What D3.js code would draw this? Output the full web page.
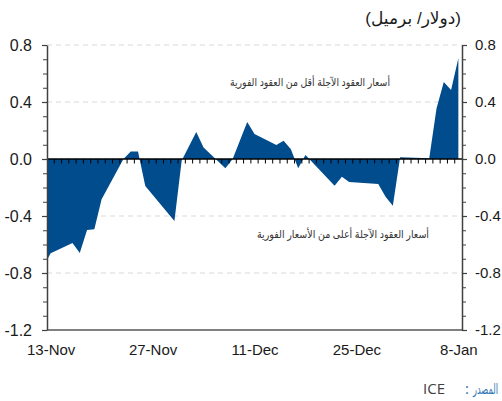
<!DOCTYPE html>
<html>
<head>
<meta charset="utf-8">
<script src="https://cdn.jsdelivr.net/npm/d3@7"></script>
<style>
  body { margin: 0; background: #fff; }
  #chart { width: 502px; height: 401px; overflow: hidden; }
</style>
</head>
<body>
<div id="chart"></div>
<script>
// Brent spread (front month minus second month), $/bbl
const dates = [
  "2018-11-12", "2018-11-13", "2018-11-16", "2018-11-17", "2018-11-18", "2018-11-19",
  "2018-11-20", "2018-11-23", "2018-11-24", "2018-11-25", "2018-11-26", "2018-11-30",
  "2018-12-01", "2018-12-03", "2018-12-04", "2018-12-07", "2018-12-08", "2018-12-10",
  "2018-12-11", "2018-12-14", "2018-12-15", "2018-12-16", "2018-12-17", "2018-12-18",
  "2018-12-22", "2018-12-23", "2018-12-24", "2018-12-28", "2018-12-29", "2018-12-30",
  "2018-12-31", "2019-01-04", "2019-01-05", "2019-01-06", "2019-01-07", "2019-01-08"
];
const values = [
  -0.755, -0.662, -0.59, -0.66, -0.498, -0.493,
  -0.283, 0.0, 0.053, 0.053, -0.19, -0.435,
  -0.01, 0.19, 0.08, -0.065, 0.0, 0.26,
  0.175, 0.098, 0.128, 0.068, -0.065, 0.028,
  -0.187, -0.124, -0.161, -0.175, -0.265, -0.328,
  0.012, 0.005, 0.355, 0.54, 0.485, 0.707
];
const yTicks = [-1.2, -0.8, -0.4, 0, 0.4, 0.8];
const xTickLabels = ["2018-11-13", "2018-11-27", "2018-12-11", "2018-12-25", "2019-01-08"];
const unitLabel = "(دولار/ برميل)";
const labelAbove = "أسعار العقود الآجلة أقل من العقود الفورية";
const labelBelow = "أسعار العقود الآجلة أعلى من الأسعار الفورية";
const sourceLabel = "المصدر";
const sourceName = "ICE";

const width = 502, height = 401;
const plot = { left: 47, right: 462, top: 45, bottom: 330 };
const fill = "#004c8c";
const fontFamily = "'Liberation Sans', Arial, 'DejaVu Sans', sans-serif";

const parse = d3.utcParse("%Y-%m-%d");
const data = dates.map((d, i) => ({ date: parse(d), value: values[i] }));
const halfDay = 12 * 3600 * 1000;

// date axis with the points in the middle of each day slot
const x = d3.scaleUtc()
  .domain([new Date(+parse("2018-11-13") - halfDay), new Date(+parse("2019-01-08") + halfDay)])
  .range([plot.left, plot.right]);
const y = d3.scaleLinear().domain([-1.2, 0.8]).range([plot.bottom, plot.top]);

const svg = d3.select("#chart")
  .append("svg")
  .attr("width", width)
  .attr("height", height)
  .attr("font-family", fontFamily);

svg.append("defs")
  .append("clipPath")
  .attr("id", "plot-clip")
  .append("rect")
  .attr("x", plot.left)
  .attr("y", plot.top - 5)
  .attr("width", plot.right - plot.left)
  .attr("height", plot.bottom - plot.top + 5);

// dashed grid
svg.append("g")
  .selectAll("line")
  .data(yTicks.filter((t) => t !== 0 && t !== -1.2))
  .join("line")
  .attr("x1", plot.left)
  .attr("x2", plot.right)
  .attr("y1", (d) => y(d))
  .attr("y2", (d) => y(d))
  .attr("stroke", "#d9d9d9")
  .attr("stroke-width", 1)
  .attr("stroke-dasharray", "5,4");

// area
const area = d3.area()
  .x((d) => x(d.date))
  .y0(y(0))
  .y1((d) => y(d.value));

svg.append("path")
  .datum(data)
  .attr("clip-path", "url(#plot-clip)")
  .attr("fill", fill)
  .attr("d", area);

// zero line with day ticks
const dayTicks = d3.utcDay
  .range(parse("2018-11-13"), parse("2019-01-08"))
  .map((d) => new Date(+d + halfDay));
svg.append("line")
  .attr("x1", plot.left)
  .attr("x2", plot.right)
  .attr("y1", y(0))
  .attr("y2", y(0))
  .attr("stroke", "#000")
  .attr("stroke-width", 1.6);
svg.append("g")
  .selectAll("line")
  .data(dayTicks)
  .join("line")
  .attr("x1", (d) => x(d))
  .attr("x2", (d) => x(d))
  .attr("y1", y(0))
  .attr("y2", y(0) + 4.5)
  .attr("stroke", "#000")
  .attr("stroke-width", 1);

// bottom axis
svg.append("line")
  .attr("x1", plot.left)
  .attr("x2", plot.right)
  .attr("y1", y(-1.2))
  .attr("y2", y(-1.2))
  .attr("stroke", "#808080")
  .attr("stroke-width", 2);

const xAxis = svg.append("g")
  .attr("transform", `translate(0,${y(-1.2)})`)
  .call(
    d3.axisBottom(x)
      .tickValues(xTickLabels.map(parse))
      .tickSize(0)
      .tickPadding(14)
      .tickFormat(d3.utcFormat("%-d-%b"))
  );
xAxis.select(".domain").remove();
xAxis.selectAll("text")
  .attr("font-size", 15)
  .attr("font-family", fontFamily)
  .attr("fill", "#1a1a1a");

// y axes (left and right)
const minorTicks = d3.range(-12, 9).map((i) => i / 10);
const fmt = (d) => d.toFixed(1);

const drawYAxis = (axisFn, xPos, fontSize, padding) => {
  const minor = svg.append("g")
    .attr("transform", `translate(${xPos},0)`)
    .call(axisFn(y).tickValues(minorTicks).tickSize(4).tickFormat(""));
  minor.select(".domain").remove();
  minor.selectAll("line").attr("stroke", "#404040");

  const major = svg.append("g")
    .attr("transform", `translate(${xPos},0)`)
    .call(axisFn(y).tickValues(yTicks).tickSizeInner(5).tickSizeOuter(0).tickPadding(padding).tickFormat(fmt));
  major.select(".domain").attr("stroke", "#404040").attr("stroke-width", 1.5);
  major.selectAll("line").attr("stroke", "#404040").attr("stroke-width", 1.2);
  major.selectAll("text")
    .attr("font-size", fontSize)
    .attr("font-family", fontFamily)
    .attr("fill", "#1a1a1a");
};
drawYAxis(d3.axisLeft, plot.left, 16, 10);
drawYAxis(d3.axisRight, plot.right, 15, 8);

// unit label (right-to-left)
svg.append("text")
  .attr("x", 461)
  .attr("y", 24)
  .attr("direction", "rtl")
  .style("unicode-bidi", "embed")
  .attr("text-anchor", "start")
  .attr("font-size", 17)
  .attr("fill", "#1a1a1a")
  .text(unitLabel);

// annotations
svg.append("text")
  .attr("x", 310)
  .attr("y", 86)
  .attr("text-anchor", "middle")
  .attr("font-size", 11)
  .attr("textLength", 160)
  .attr("lengthAdjust", "spacingAndGlyphs")
  .attr("fill", "#333")
  .text(labelAbove);
svg.append("text")
  .attr("x", 343)
  .attr("y", 238)
  .attr("text-anchor", "middle")
  .attr("font-size", 11)
  .attr("textLength", 172)
  .attr("lengthAdjust", "spacingAndGlyphs")
  .attr("fill", "#333")
  .text(labelBelow);

// source: "المصدر: ICE"
const srcG = svg.append("g")
  .attr("font-family", "'Open Sans', 'DejaVu Sans', sans-serif")
  .attr("font-size", 15);
srcG.append("text")
  .attr("x", 423)
  .attr("y", 394)
  .attr("fill", "#404040")
  .text(sourceName);
srcG.append("text")
  .attr("x", 467)
  .attr("y", 394)
  .attr("text-anchor", "middle")
  .attr("fill", "#2e74b5")
  .text(":");
const srcWord = srcG.append("g");
const srcText = srcWord.append("text")
  .attr("x", 0)
  .attr("y", 0)
  .attr("text-anchor", "end")
  .attr("font-size", 14)
  .attr("fill", "#2e74b5")
  .text(sourceLabel);
const srcScale = 25 / srcText.node().getComputedTextLength();
srcWord.attr("transform", `translate(498,394) scale(${srcScale},1)`);
</script>
</body>
</html>
